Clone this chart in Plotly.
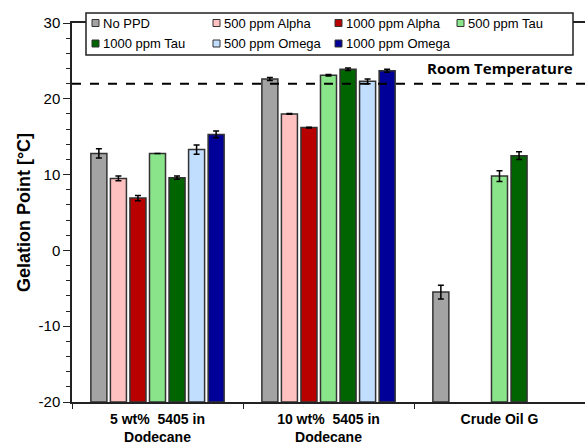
import plotly.graph_objects as go

# Gelation point of wax solutions / crude oil with and without pour-point depressants
categories = ["5 wt%  5405 in<br>Dodecane", "10 wt%  5405 in<br>Dodecane", "Crude Oil G"]
series_names = ["No PPD", "500 ppm Alpha", "1000 ppm Alpha", "500 ppm Tau",
                "1000 ppm Tau", "500 ppm Omega", "1000 ppm Omega"]
no_ppd = [12.8, 22.6, -5.5]
alpha_500 = [9.5, 18.0, None]
alpha_1000 = [6.9, 16.2, None]
tau_500 = [12.8, 23.1, 9.8]
tau_1000 = [9.6, 23.9, 12.5]
omega_500 = [13.3, 22.3, None]
omega_1000 = [15.3, 23.7, None]

no_ppd_err = [0.6, 0.2, 0.9]
alpha_500_err = [0.3, 0.05, 0]
alpha_1000_err = [0.35, 0.05, 0]
tau_500_err = [0.0, 0.1, 0.7]
tau_1000_err = [0.2, 0.15, 0.5]
omega_500_err = [0.6, 0.3, 0]
omega_1000_err = [0.45, 0.2, 0]

room_temperature = 22
y_min, y_max = -20, 30
y_ticks = [-20, -10, 0, 10, 20, 30]

values = [no_ppd, alpha_500, alpha_1000, tau_500, tau_1000, omega_500, omega_1000]
errors = [no_ppd_err, alpha_500_err, alpha_1000_err, tau_500_err, tau_1000_err,
          omega_500_err, omega_1000_err]
colors = ["#A3A3A3", "#FFC0C0", "#B80000", "#8AE58A", "#006400", "#C2DEFF", "#000099"]

fig = go.Figure()
for name, vals, errs, col in zip(series_names, values, errors, colors):
    # bars rise from the bottom of the axis, so their length is measured from y_min
    lengths = [None if v is None else v - y_min for v in vals]
    fig.add_trace(go.Bar(
        name=name, x=categories, y=lengths, base=y_min,
        customdata=vals,
        marker=dict(color=col, line=dict(color="#333333", width=1.5)),
        error_y=dict(type="data", array=errs, visible=True, color="black",
                     thickness=1.5, width=3),
        showlegend=False,
    ))

# Room temperature reference line
fig.add_shape(type="line", xref="paper", yref="y", x0=0, x1=1,
              y0=room_temperature, y1=room_temperature,
              line=dict(color="black", width=2, dash="dash"))
fig.add_annotation(xref="paper", yref="y", x=0.98, y=room_temperature + 0.5,
                   text="<b>Room Temperature</b>", showarrow=False,
                   xanchor="right", yanchor="bottom",
                   font=dict(family="Open Sans, Liberation Sans", size=15, color="black"))

# Legend box with two rows of four entries
plot_left, plot_w = 72, 513
plot_top, plot_h = 23, 379

def px_x(px):
    return (px - plot_left) / plot_w

def px_y(py):
    return 1 + (plot_top - py) / plot_h

fig.add_shape(type="rect", xref="paper", yref="paper",
              x0=px_x(86), x1=px_x(573), y0=px_y(55), y1=px_y(13),
              line=dict(color="#222222", width=1.5), fillcolor="white", layer="above")
col_x = [92, 213, 335, 457]
row_y = [23, 43.5]
for i, (name, col) in enumerate(zip(series_names, colors)):
    cx = col_x[i % 4]
    cy = row_y[i // 4]
    fig.add_shape(type="rect", xref="paper", yref="paper",
                  x0=px_x(cx), x1=px_x(cx + 7), y0=px_y(cy + 3.5), y1=px_y(cy - 3.5),
                  line=dict(color="#333333", width=1), fillcolor=col, layer="above")
    fig.add_annotation(xref="paper", yref="paper", x=px_x(cx + 8.5), y=px_y(cy),
                       text=name, showarrow=False, xanchor="left", yanchor="middle",
                       font=dict(family="Liberation Sans, Arial", size=13, color="black"))

fig.update_layout(
    width=585, height=445,
    margin=dict(l=72, r=0, t=23, b=43),
    paper_bgcolor="white", plot_bgcolor="white",
    barmode="group", bargap=0.2, bargroupgap=0.18,
    font=dict(family="Liberation Sans, Arial", color="black"),
)
fig.update_xaxes(
    showline=True, linecolor="#222222", linewidth=1.5, mirror=True,
    ticks="outside", tickson="boundaries", ticklen=5, tickcolor="#222222",
    tickfont=dict(size=14, family="Liberation Sans, Arial"),
    tickprefix="<b>", ticksuffix="</b>", ticklabelstandoff=3,
    showgrid=False, automargin=False,
)
fig.update_yaxes(
    range=[y_min, y_max], tickvals=y_ticks, ticktext=[str(t) for t in y_ticks],
    showline=True, linecolor="#222222", linewidth=1.5,
    ticks="outside", ticklen=7, tickcolor="#222222",
    minor=dict(dtick=2, ticks="outside", ticklen=4, tickcolor="#222222", showgrid=False),
    tickfont=dict(size=15), showgrid=False, zeroline=False, automargin=False,
    title=dict(text="<b>Gelation Point [°C]</b>", font=dict(size=18), standoff=3),
)

fig.write_html("out.html")
